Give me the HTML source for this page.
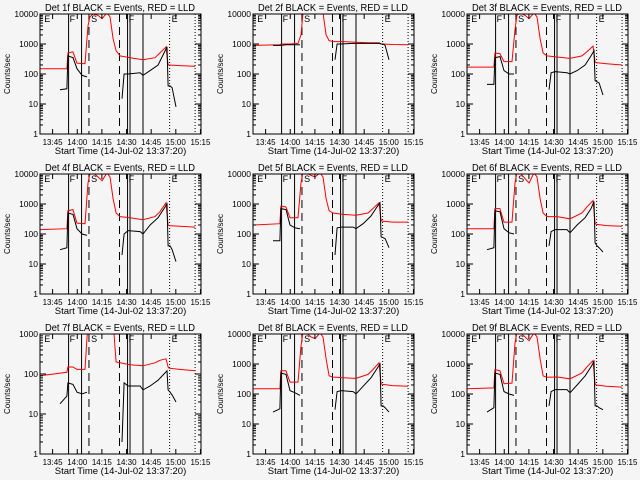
<!DOCTYPE html>
<html><head><meta charset="utf-8"><style>
html,body{margin:0;padding:0;background:#f5f5f5;}
svg{display:block;font-family:"Liberation Sans",sans-serif;}
</style></head><body>
<svg id="chart" width="640" height="480" viewBox="0 0 640 480"></svg>
<script>
// Minutes after 13:37:20
const redTimes = [0,16.4,17,20,22.5,27.4,29.2,30.4,32.3,35.3,37.8,40.8,42.6,44.5,46.3,48.7,54.8,62.7,70,73,76.7,78,78.6,85,94.4];
const blackTimes = [12.2,16.4,17,20.1,22.5,25.6,28.6,null,49.9,51.2,53.6,60.9,62.7,67,71.9,75.5,77.3,78,79.2,80.4,82.8];
const detLabels = ["1f","2f","3f","4f","5f","6f","7f","8f","9f"];
const redSeries = [
 [150,150,500,550,230,220,4000,8000,10000,9000,7000,11000,8000,1500,600,400,350,300,350,500,800,200,200,190,180],
 [900,950,1000,1000,1000,1050,2000,10000,11000,11000,11000,11000,11000,2000,1300,1200,1200,1150,1100,1100,1100,1000,1000,960,950],
 [170,170,500,480,260,260,3000,9000,11000,9000,7000,11000,8000,1500,500,400,370,330,400,550,850,250,240,220,200],
 [140,150,600,650,230,220,5000,10000,11000,8000,6000,11000,8000,1500,500,380,350,300,380,550,1100,200,190,180,170],
 [200,220,850,800,350,350,5000,11000,11000,9000,8000,11000,8000,1500,600,500,450,420,500,700,1100,300,270,250,250],
 [150,150,700,700,250,250,5000,11000,11000,7000,5000,11000,8000,1500,500,380,380,320,500,800,1300,230,210,190,180],
 [90,110,150,150,130,130,2000,11000,11000,11000,11000,11000,11000,2000,200,190,170,160,190,220,240,150,140,130,120],
 [150,150,600,600,250,250,4000,11000,11000,8000,7000,11000,8000,1500,400,370,350,330,450,650,1100,220,210,190,180],
 [150,160,650,600,220,230,5000,11000,11000,8000,6000,11000,8000,1500,400,360,370,320,500,800,1300,220,200,180,170]
];
const blackSeries = [
 [30,32,400,350,150,90,80,null,15,100,100,110,90,130,200,500,800,40,40,35,8],
 [900,900,900,950,950,950,950,null,300,1000,1000,1050,1050,1050,1050,1050,1050,1000,1000,900,300],
 [45,45,350,380,130,100,100,null,30,110,120,110,100,130,200,400,600,60,55,50,20],
 [30,35,500,450,150,100,90,null,20,100,130,120,100,200,350,700,1000,40,40,30,12],
 [60,60,700,650,200,160,150,null,20,160,170,170,150,220,400,800,1100,80,75,70,35],
 [30,35,600,550,150,110,100,null,40,120,140,140,110,200,350,700,1200,50,40,35,25],
 [18,28,60,55,35,32,35,null,2,60,50,50,40,50,70,100,120,40,35,30,20],
 [25,32,500,450,130,110,90,null,30,120,130,120,100,180,350,700,1000,40,40,35,25],
 [25,35,500,450,120,100,90,null,40,120,140,140,110,200,400,800,1200,40,40,35,30]
];
const yMaxDecade = [4,4,4,4,4,4,3,4,4];
const xTickTimes = [7.67,22.67,37.67,52.67,67.67,82.67,97.67];
const xTickLabels = ["13:45","14:00","14:15","14:30","14:45","15:00","15:15"];
const solidLines = [17.4,25.3,53.3,54.8,62.7];
const dashedLines = [29.8,48.4];
const dottedLines = [78.9,94.4];
const markerTimes = [2,17.4,30.5,53.3,79.5];
const markerText = ["E","F","S","F","E"];

const NS="http://www.w3.org/2000/svg";
const svg=document.getElementById('chart');
function mk(tag,attrs,parent){const e=document.createElementNS(NS,tag);for(const k in attrs)e.setAttribute(k,attrs[k]);(parent||svg).appendChild(e);return e;}
const lefts=[40,253,467], tops=[14,174,334], PW=161, PH=120, TMAX=98;
const defs=mk('defs',{});
for(let p=0;p<9;p++){
  const L=lefts[p%3], T=tops[Math.floor(p/3)];
  const dmax=yMaxDecade[p];
  const g=mk('g',{});
  
  
  const xs=t=>L+t/TMAX*PW;
  const ys=v=>T+PH-(Math.log10(Math.max(v,0.5)))/dmax*PH;
  const cp=mk('clipPath',{id:'c'+p},defs);mk('rect',{x:L,y:T,width:PW,height:PH},cp);
  const vg=mk('g',{'clip-path':'url(#c'+p+')'},g);
  
  
  solidLines.forEach(t=>mk('line',{x1:xs(t),x2:xs(t),y1:T,y2:T+PH,stroke:'#000','stroke-width':1},vg));
  dashedLines.forEach(t=>mk('line',{x1:xs(t),x2:xs(t),y1:T,y2:T+PH,stroke:'#000','stroke-width':1,'stroke-dasharray':'8,5'},vg));
  dottedLines.forEach(t=>mk('line',{x1:xs(t),x2:xs(t),y1:T,y2:T+PH,stroke:'#000','stroke-width':1,'stroke-dasharray':'1,2'},vg));
  markerTimes.forEach((t,i)=>{const m=mk('text',{x:xs(t)+1,y:T+8,'font-size':9},vg);m.textContent=markerText[i];});
  let d='';redTimes.forEach((t,i)=>{d+=(i?'L':'M')+xs(t).toFixed(1)+','+ys(redSeries[p][i]).toFixed(1);});
  const r=mk('path',{d:d,fill:'none',stroke:'#ff0000','stroke-width':1,'clip-path':'url(#c'+p+')'},g);
  
  
  d='';let start=true;blackTimes.forEach((t,i)=>{const v=blackSeries[p][i];if(t===null||v===null){start=true;return;}d+=(start?'M':'L')+xs(t).toFixed(1)+','+ys(v).toFixed(1);start=false;});
  const b=mk('path',{d:d,fill:'none',stroke:'#000','stroke-width':1,'clip-path':'url(#c'+p+')'},g);
  
  
  mk('rect',{x:L,y:T,width:PW,height:PH,fill:'none',stroke:'#000','stroke-width':1},g);
  for(let k=0;k<=dmax;k++){
    const y=ys(Math.pow(10,k));
    mk('line',{x1:L,x2:L+6,y1:y,y2:y,stroke:'#000'},g);mk('line',{x1:L+PW-6,x2:L+PW,y1:y,y2:y,stroke:'#000'},g);
    const tx=mk('text',{x:L-2,y:y+3,'font-size':8.5,'text-anchor':'end'},g);tx.textContent=String(Math.pow(10,k));
    
    
    if(k<dmax)for(let m=2;m<10;m++){const yy=ys(m*Math.pow(10,k));mk('line',{x1:L,x2:L+3,y1:yy,y2:yy,stroke:'#000'},g);mk('line',{x1:L+PW-3,x2:L+PW,y1:yy,y2:yy,stroke:'#000'},g);}
  }
  xTickTimes.forEach((t,i)=>{const x=xs(t);
    mk('line',{x1:x,x2:x,y1:T+PH,y2:T+PH-5,stroke:'#000'},g);mk('line',{x1:x,x2:x,y1:T,y2:T+5,stroke:'#000'},g);
    const tx=mk('text',{x:x,y:T+PH+11,'font-size':8,'text-anchor':'middle'},g);tx.textContent=xTickLabels[i];
    
    
  });
  const ti=mk('text',{x:L+5,y:T-3,'font-size':10.5,textLength:150,lengthAdjust:'spacingAndGlyphs'},g);
  ti.textContent='Det '+detLabels[p]+' BLACK = Events, RED = LLD';
  
  
  const xl=mk('text',{x:L+PW/2,y:T+PH+20,'font-size':9.5,'text-anchor':'middle'},g);
  xl.textContent='Start Time (14-Jul-02 13:37:20)';
  
  
  const yl=mk('text',{x:0,y:0,'font-size':8,'text-anchor':'middle',transform:'translate('+(L-30)+','+(T+PH/2)+') rotate(-90)'},g);
  yl.textContent='Counts/sec';
  
  
}
</script>
</body></html>
